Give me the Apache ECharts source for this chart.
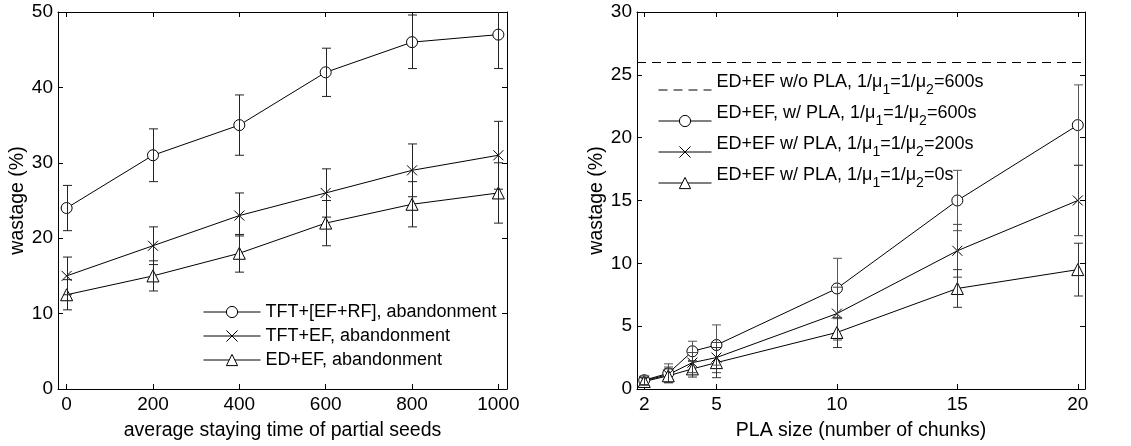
<!DOCTYPE html>
<html><head><meta charset="utf-8">
<script src="https://cdn.jsdelivr.net/npm/echarts@6/dist/echarts.min.js"></script>
<style>html,body{margin:0;padding:0;background:#fff}#c{width:1131px;height:446px}</style>
</head><body><div id="c"></div>
<script>
// ---------- Left panel data ----------
const leftX = [0, 200, 400, 600, 800, 1000];
const leftXTicks = [0, 200, 400, 600, 800, 1000];
const tftEfRf = [24, 31, 35, 42, 46, 47];
const tftEfRfLo = [21, 27.5, 31, 38.8, 42.5, 42.5];
const tftEfRfHi = [27, 34.5, 39, 45.2, 49.6, 51.5];
const tftEf = [15, 19, 23, 26, 29, 31];
const tftEfLo = [12.5, 16.5, 20.3, 22.8, 25.5, 26.5];
const tftEfHi = [17.5, 21.5, 26, 29.2, 32.5, 35.5];
const edEf = [12.5, 15, 18, 22, 24.5, 26];
const edEfLo = [10.5, 13, 15.5, 19, 21.5, 22];
const edEfHi = [14.5, 17, 20.5, 25, 27.5, 30];
const leftNames = ['TFT+[EF+RF], abandonment', 'TFT+EF, abandonment', 'ED+EF, abandonment'];

// ---------- Right panel data ----------
const rightX = [2, 3, 4, 5, 10, 15, 20];
const rightXTicks = [2, 5, 10, 15, 20];
const noPlaLevel = [26];
const pla600 = [0.7, 1.25, 3.0, 3.5, 8.0, 15.0, 21.0];
const pla600Err = [0.35, 0.75, 0.8, 1.6, 2.4, 2.4, 3.2];
const pla200 = [0.65, 1.15, 2.1, 2.5, 6.0, 11.0, 15.0];
const pla200Err = [0.3, 0.6, 0.8, 1.2, 2.1, 2.1, 2.8];
const pla0 = [0.6, 1.05, 1.6, 2.1, 4.5, 8.0, 9.5];
const pla0Err = [0.3, 0.55, 0.65, 1.2, 1.2, 1.5, 2.1];
const rightNames = ['noPLA600', 'PLA600', 'PLA200', 'PLA0'];
const rightLabels = {
  noPLA600: '{m|ED+EF w/o PLA, 1/μ}{s|1}{m|=1/μ}{s|2}{m|=600s}',
  PLA600: '{m|ED+EF, w/ PLA, 1/μ}{s|1}{m|=1/μ}{s|2}{m|=600s}',
  PLA200: '{m|ED+EF w/ PLA, 1/μ}{s|1}{m|=1/μ}{s|2}{m|=200s}',
  PLA0: '{m|ED+EF w/ PLA, 1/μ}{s|1}{m|=1/μ}{s|2}{m|=0s}'
};

const FONT = "'Liberation Sans', Arial, Helvetica, sans-serif";
const CROSS = 'path://M0,0L10,10M10,0L0,10';
const TRI = 'path://M5,0L10,9L0,9Z';
const TICK_FS = 19, TITLE_FS = 19.5, LEG_FS = 18;

function xAxisCfg(gi, pos, min, max, ticks, labels, name) {
  return {
    type: 'value', gridIndex: gi, position: pos, min: min, max: max,
    name: name || '', nameLocation: 'middle', nameGap: 32,
    nameTextStyle: {color: '#000', fontSize: TITLE_FS, fontFamily: FONT},
    axisLine: {show: true, onZero: false, lineStyle: {color: '#000', width: 1}},
    axisTick: {show: true, inside: true, length: 5, customValues: ticks, lineStyle: {color: '#000'}},
    axisLabel: {show: labels, customValues: ticks, formatter: v => String(v), color: '#000', fontSize: TICK_FS, fontFamily: FONT, margin: 6},
    splitLine: {show: false}
  };
}
function yAxisCfg(gi, pos, max, interval, labels, name) {
  return {
    type: 'value', gridIndex: gi, position: pos, min: 0, max: max, interval: interval,
    name: name || '', nameLocation: 'middle', nameGap: 25,
    nameTextStyle: {color: '#000', fontSize: TITLE_FS, fontFamily: FONT},
    axisLine: {show: true, onZero: false, lineStyle: {color: '#000', width: 1}},
    axisTick: {show: true, inside: true, length: 5, lineStyle: {color: '#000'}},
    axisLabel: {show: labels, formatter: v => String(v), color: '#000', fontSize: TICK_FS, fontFamily: FONT, margin: 5},
    splitLine: {show: false}
  };
}

function lineSeries(name, xs, ys, symbol, size, xi, yi) {
  return {
    name: name, type: 'line', xAxisIndex: xi, yAxisIndex: yi,
    data: xs.map((x, i) => [x, ys[i]]),
    symbol: symbol, symbolSize: size, showAllSymbol: true,
    lineStyle: {color: '#000', width: 1},
    itemStyle: {color: '#fff', borderColor: '#000', borderWidth: 1},
    emphasis: {disabled: true}, animation: false, z: 3
  };
}
function errSeries(name, xs, lo, hi, xi, yi, color) {
  return {
    name: name, type: 'custom', xAxisIndex: xi, yAxisIndex: yi,
    data: xs.map((x, i) => [x, lo[i], hi[i]]),
    encode: {x: 0, y: [1, 2]}, z: 4, animation: false, silent: true,
    renderItem: function (params, api) {
      const cs = params.coordSys;
      const p1 = api.coord([api.value(0), api.value(1)]);
      const p2 = api.coord([api.value(0), api.value(2)]);
      const clampY = y => Math.max(cs.y, Math.min(cs.y + cs.height, y));
      const x = Math.round(p1[0]) + 0.5;
      const yb = clampY(p1[1]), yt = clampY(p2[1]);
      const hw = 4.5;
      const kids = [{type: 'line', shape: {x1: x, y1: yb, x2: x, y2: yt}, style: {stroke: color, lineWidth: 1}}];
      if (p1[1] <= cs.y + cs.height && p1[1] >= cs.y)
        kids.push({type: 'line', shape: {x1: x - hw, y1: yb, x2: x + hw, y2: yb}, style: {stroke: color, lineWidth: 1}});
      if (p2[1] >= cs.y && p2[1] <= cs.y + cs.height)
        kids.push({type: 'line', shape: {x1: x - hw, y1: yt, x2: x + hw, y2: yt}, style: {stroke: color, lineWidth: 1}});
      return {type: 'group', children: kids};
    }
  };
}

const lo = (v, e) => v.map((y, i) => y - e[i]);
const hi = (v, e) => v.map((y, i) => y + e[i]);

const legendCommon = {
  orient: 'vertical', selectedMode: false, itemHeight: 14,
  lineStyle: {width: 1},
  itemStyle: {borderWidth: 1}
};

const option = {
  animation: false,
  backgroundColor: '#fff',
  textStyle: {fontFamily: FONT},
  grid: [
    {left: 58, top: 12, width: 449, height: 380},
    {left: 637, top: 12, width: 448, height: 380}
  ],
  xAxis: [
    xAxisCfg(0, 'bottom', -20, 1020, leftXTicks, true, 'average staying time of partial seeds'),
    xAxisCfg(0, 'top', -20, 1020, leftXTicks, false),
    xAxisCfg(1, 'bottom', 1.7, 20.3, rightXTicks, true, 'PLA size (number of chunks)'),
    xAxisCfg(1, 'top', 1.7, 20.3, rightXTicks, false)
  ],
  yAxis: [
    yAxisCfg(0, 'left', 50, 10, true, 'wastage (%)'),
    yAxisCfg(0, 'right', 50, 10, false),
    yAxisCfg(1, 'left', 30, 5, true, 'wastage (%)'),
    yAxisCfg(1, 'right', 30, 5, false)
  ],
  legend: [
    Object.assign({}, legendCommon, {
      data: leftNames, left: 198, top: 297,
      itemWidth: 57, itemGap: 4,
      textStyle: {color: '#000', fontSize: LEG_FS, fontFamily: FONT, lineHeight: 20}
    }),
    Object.assign({}, legendCommon, {
      data: rightNames, left: 653, top: 68,
      itemWidth: 53, itemGap: 7,
      formatter: n => rightLabels[n],
      textStyle: {
        color: '#000', fontSize: LEG_FS, fontFamily: FONT,
        rich: {
          m: {fontSize: LEG_FS, fontFamily: FONT, color: '#000', lineHeight: 20, verticalAlign: 'top'},
          s: {fontSize: 14, fontFamily: FONT, color: '#000', lineHeight: 34, verticalAlign: 'middle'}
        }
      }
    })
  ],
  series: [
    lineSeries(leftNames[0], leftX, tftEfRf, 'circle', 11, 0, 0),
    lineSeries(leftNames[1], leftX, tftEf, CROSS, 10, 0, 0),
    lineSeries(leftNames[2], leftX, edEf, TRI, 12, 0, 0),
    errSeries('e1', leftX, tftEfRfLo, tftEfRfHi, 0, 0, '#222'),
    errSeries('e2', leftX, tftEfLo, tftEfHi, 0, 0, '#222'),
    errSeries('e3', leftX, edEfLo, edEfHi, 0, 0, '#222'),
    {
      name: rightNames[0], type: 'line', xAxisIndex: 2, yAxisIndex: 2, data: [],
      symbol: 'none', lineStyle: {color: '#000', width: 1, type: [9, 6]},
      itemStyle: {color: 'rgba(0,0,0,0)', borderColor: 'rgba(0,0,0,0)', borderWidth: 0},
      markLine: {
        silent: true, symbol: 'none', label: {show: false}, animation: false,
        lineStyle: {color: '#000', width: 1, type: [9, 6]},
        data: noPlaLevel.map(v => ({yAxis: v}))
      }
    },
    lineSeries(rightNames[1], rightX, pla600, 'circle', 11, 2, 2),
    lineSeries(rightNames[2], rightX, pla200, CROSS, 10, 2, 2),
    lineSeries(rightNames[3], rightX, pla0, TRI, 12, 2, 2),
    errSeries('r1', rightX, lo(pla600, pla600Err), hi(pla600, pla600Err), 2, 2, '#555'),
    errSeries('r2', rightX, lo(pla200, pla200Err), hi(pla200, pla200Err), 2, 2, '#444'),
    errSeries('r3', rightX, lo(pla0, pla0Err), hi(pla0, pla0Err), 2, 2, '#333')
  ]
};
const chart = echarts.init(document.getElementById('c'), null, {renderer: 'canvas'});
chart.setOption(option);
</script></body></html>
